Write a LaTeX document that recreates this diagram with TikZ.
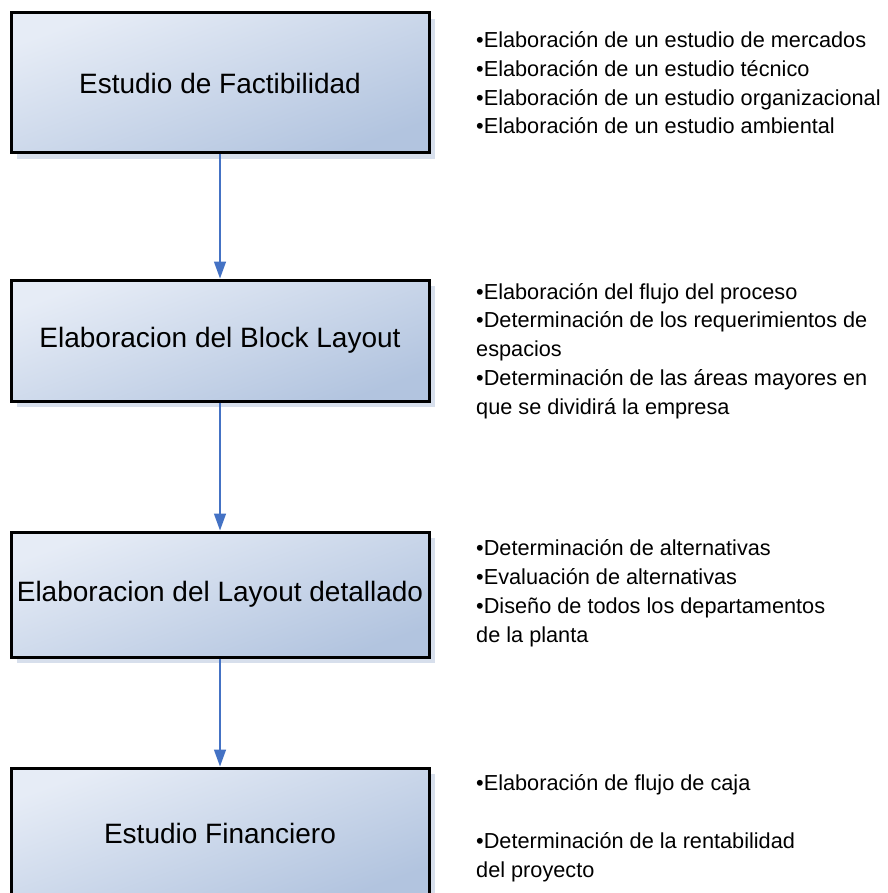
\documentclass[tikz,border=0pt]{standalone}
\usepackage{fontspec}
\setmainfont{Liberation Sans}
\usetikzlibrary{arrows.meta,shadows}
\definecolor{boxlight}{HTML}{E6ECF6}
\definecolor{boxdark}{HTML}{B2C4DF}
\definecolor{shadowc}{HTML}{D7DFEC}
\definecolor{arrowc}{HTML}{4472C4}
\tikzset{
  stage/.style={draw=black, line width=3pt, minimum width=418pt, inner sep=0pt,
    top color=boxlight, bottom color=boxdark, shading angle=20,
    drop shadow={shadow xshift=6pt, shadow yshift=-6pt, fill=shadowc, opacity=1},
    font=\fontsize{28}{33}\selectfont},
  notes/.style={anchor=base west, align=left, inner sep=0pt,
    font=\fontsize{21.7}{28.7}\selectfont},
  flow/.style={draw=arrowc, line width=1.5pt, -{Triangle[length=17pt,width=12pt]}}
}
\begin{document}
\begin{tikzpicture}[x=1pt,y=-1pt]
\useasboundingbox (0,0) rectangle (887,893);
\node[stage, minimum height=140pt] (s1) at (220,83) {Estudio de Factibilidad};
\node[stage, minimum height=121pt] (s2) at (220,340.5) {Elaboracion del Block Layout};
\node[stage, minimum height=125pt] (s3) at (220,594.5) {Elaboracion del Layout detallado};
\node[stage, minimum height=130pt] (s4) at (220,833) {Estudio Financiero};
\draw[flow] (s1.south) -- (s2.north);
\draw[flow] (s2.south) -- (s3.north);
\draw[flow] (s3.south) -- (s4.north);
% base anchor = baseline of the last line
\node[notes] (n1) at (476,134) {•Elaboración de un estudio de mercados\\•Elaboración de un estudio técnico\\•Elaboración de un estudio organizacional\\•Elaboración de un estudio ambiental};
\node[notes] (n2) at (476,414) {•Elaboración del flujo del proceso\\•Determinación de los requerimientos de\\espacios\\•Determinación de las áreas mayores en\\que se dividirá la empresa};
\node[notes] (n3) at (476,642) {•Determinación de alternativas\\•Evaluación de alternativas\\•Diseño de todos los departamentos\\de la planta};
\node[notes] (n4) at (476,877) {•Elaboración de flujo de caja\\[28.7pt]•Determinación de la rentabilidad\\del proyecto};
\end{tikzpicture}
\end{document}
